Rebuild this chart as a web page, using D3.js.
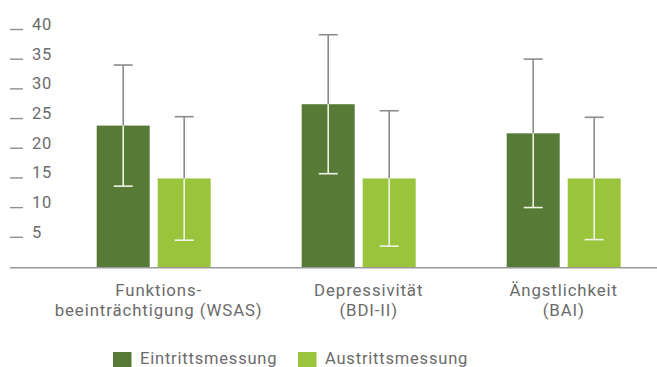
<!DOCTYPE html>
<html>
<head>
<meta charset="utf-8">
<script src="https://cdn.jsdelivr.net/npm/d3@7"></script>
<style>
  html, body { margin: 0; padding: 0; background: #fff; }
  svg { display: block; font-family: Roboto, "Noto Sans", sans-serif; }
</style>
</head>
<body>
<svg id="chart" width="657" height="367"></svg>
<script>
// Scales measured on entry and discharge (mean ± SD)
const categories = [
  ["Funktions-", "beeinträchtigung (WSAS)"],
  ["Depressivität", "(BDI-II)"],
  ["Ängstlichkeit", "(BAI)"]
];
const seriesNames = ["Eintrittsmessung", "Austrittsmessung"];
const entryMean = [23.9, 27.5, 22.6];
const entrySD   = [10.2, 11.7, 12.5];
const exitMean  = [15.0, 15.0, 15.0];
const exitSD    = [10.4, 11.4, 10.3];
const yTicks = [5, 10, 15, 20, 25, 30, 35, 40];

const colors = ["#577b36", "#9bc43d"];
const textColor = "#6b6b6b";

const svg = d3.select("#chart");
const W = 657;

const y = d3.scaleLinear().domain([0, 40]).range([267.5, 30]);
const x0 = d3.scaleBand().domain(d3.range(categories.length)).range([51.2, 666.2]).paddingInner(0).paddingOuter(0);
const x1 = d3.scaleBand().domain([0, 1]).range([-57, 57]).paddingInner(0.131).paddingOuter(0);

const series = [
  { mean: entryMean, sd: entrySD },
  { mean: exitMean, sd: exitSD }
];

// y axis: short dash ticks with labels, no domain line
yTicks.forEach(v => {
  const yy = y(v) - 0.5;
  svg.append("line")
    .attr("x1", 10).attr("x2", 23)
    .attr("y1", yy).attr("y2", yy)
    .attr("stroke", "#8f8f8f").attr("stroke-width", 1.4);
  svg.append("text")
    .attr("x", 32).attr("y", yy + 0.5)
    .attr("fill", textColor)
    .attr("font-size", 16.5)
    .attr("letter-spacing", 0.8)
    .text(v);
});

// bars
const groups = svg.selectAll("g.grp")
  .data(categories.map((c, i) => i))
  .join("g")
  .attr("class", "grp")
  .attr("transform", i => `translate(${x0(i) + x0.bandwidth() / 2},0)`);

series.forEach((s, si) => {
  groups.append("rect")
    .attr("x", x1(si))
    .attr("width", x1.bandwidth())
    .attr("y", i => y(s.mean[i]))
    .attr("height", i => y(0) - y(s.mean[i]))
    .attr("fill", colors[si]);
});

// error bars: grey above the bar top, pale where they cross the bar
series.forEach((s, si) => {
  const cx = x1(si) + x1.bandwidth() / 2;
  const capW = 9.5;
  groups.each(function(i) {
    const g = d3.select(this);
    const top = y(s.mean[i] + s.sd[i]);
    const bot = y(s.mean[i] - s.sd[i]);
    const mid = y(s.mean[i]);
    g.append("line").attr("x1", cx).attr("x2", cx).attr("y1", top).attr("y2", mid)
      .attr("stroke", "#8c8c8c").attr("stroke-width", 1.6);
    g.append("line").attr("x1", cx - capW).attr("x2", cx + capW).attr("y1", top).attr("y2", top)
      .attr("stroke", "#8c8c8c").attr("stroke-width", 1.6);
    g.append("line").attr("x1", cx).attr("x2", cx).attr("y1", mid).attr("y2", bot)
      .attr("stroke", "#eef3e6").attr("stroke-width", 1.6);
    g.append("line").attr("x1", cx - capW).attr("x2", cx + capW).attr("y1", bot).attr("y2", bot)
      .attr("stroke", "#eef3e6").attr("stroke-width", 1.6);
  });
});

// baseline
svg.append("line")
  .attr("x1", 10).attr("x2", W)
  .attr("y1", y(0) + 0.3).attr("y2", y(0) + 0.3)
  .attr("stroke", "#9a9a9a").attr("stroke-width", 1.4);

// category labels
const labelDx = [5, 10, 0];
categories.forEach((lines, i) => {
  const cx = x0(i) + x0.bandwidth() / 2 + labelDx[i];
  lines.forEach((t, li) => {
    svg.append("text")
      .attr("x", cx).attr("y", 295.5 + li * 20.3)
      .attr("text-anchor", "middle")
      .attr("fill", textColor)
      .attr("font-size", 16.8)
      .attr("letter-spacing", 0.9)
      .text(t);
  });
});

// legend
const legendX = [113, 298];
seriesNames.forEach((n, i) => {
  svg.append("rect")
    .attr("x", legendX[i]).attr("y", 352)
    .attr("width", 18.5).attr("height", 18.5)
    .attr("fill", colors[i]);
  svg.append("text")
    .attr("x", legendX[i] + 27).attr("y", 363.5)
    .attr("fill", textColor)
    .attr("font-size", 16.5)
    .attr("letter-spacing", 0.8)
    .text(n);
});
</script>
</body>
</html>
